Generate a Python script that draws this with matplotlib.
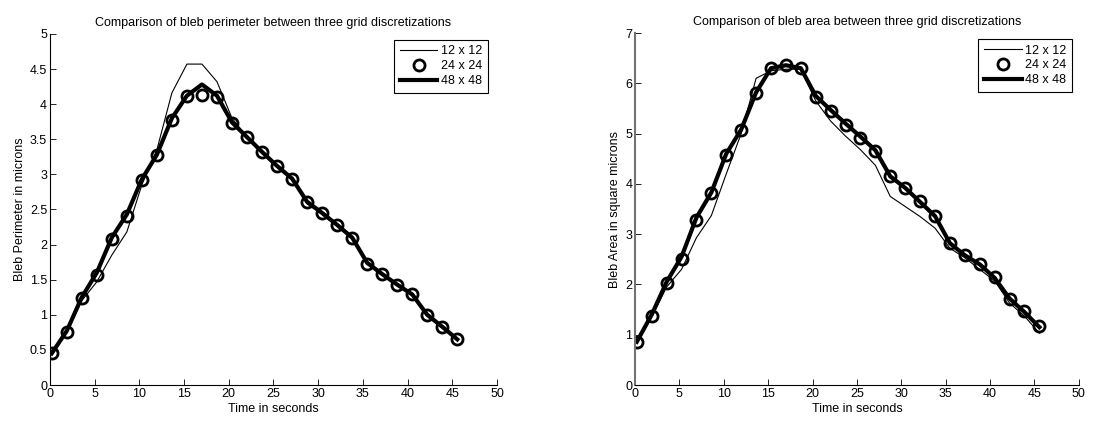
import numpy as np
import matplotlib
matplotlib.use("Agg")
import matplotlib.pyplot as plt

plt.rcParams['font.family'] = ['Liberation Sans', 'DejaVu Sans']
plt.rcParams['font.size'] = 9

# tempo de cada amostra (s)
tempo = [0.2, 1.88, 3.56, 5.24, 6.92, 8.6, 10.28, 11.96, 13.64, 15.32,
         17.0, 18.68, 20.36, 22.04, 23.72, 25.4, 27.08, 28.76, 30.44, 32.12,
         33.8, 35.48, 37.16, 38.84, 40.52, 42.2, 43.88, 45.56]

# perimetro (microns)
perim_12 = [0.45, 0.75, 1.2, 1.47, 1.85, 2.18, 2.85, 3.35, 4.16, 4.57,
            4.57, 4.32, 3.8, 3.53, 3.3, 3.1, 2.92, 2.58, 2.43, 2.26,
            2.08, 1.72, 1.56, 1.41, 1.27, 0.98, 0.81, 0.64]
perim_24 = [0.45, 0.76, 1.235, 1.57, 2.075, 2.41, 2.92, 3.27, 3.78, 4.11,
            4.13, 4.1, 3.73, 3.53, 3.32, 3.12, 2.94, 2.61, 2.45, 2.28,
            2.1, 1.73, 1.58, 1.43, 1.29, 0.99, 0.83, 0.65]
perim_48 = [0.45, 0.77, 1.25, 1.6, 2.1, 2.43, 2.93, 3.28, 3.8, 4.12,
            4.28, 4.12, 3.74, 3.53, 3.32, 3.12, 2.94, 2.61, 2.45, 2.28,
            2.1, 1.74, 1.58, 1.43, 1.29, 1.0, 0.83, 0.65]

# area (square microns)
area_12 = [0.85, 1.35, 1.95, 2.3, 2.93, 3.37, 4.2, 5.0, 6.1, 6.25,
           6.28, 6.28, 5.65, 5.25, 4.95, 4.68, 4.37, 3.75, 3.55, 3.35,
           3.12, 2.72, 2.53, 2.3, 2.07, 1.63, 1.37, 1.03]
area_24 = [0.85, 1.38, 2.02, 2.5, 3.29, 3.81, 4.57, 5.07, 5.81, 6.3,
           6.37, 6.3, 5.73, 5.45, 5.18, 4.92, 4.65, 4.15, 3.92, 3.65,
           3.37, 2.82, 2.59, 2.41, 2.14, 1.72, 1.47, 1.17]
area_48 = [0.86, 1.4, 2.05, 2.55, 3.33, 3.83, 4.6, 5.08, 5.82, 6.3,
           6.36, 6.3, 5.75, 5.47, 5.2, 4.94, 4.67, 4.15, 3.92, 3.64,
           3.36, 2.82, 2.58, 2.4, 2.13, 1.72, 1.45, 1.15]

paineis = [
    ([0.0457, 0.0855, 0.409, 0.834], perim_12, perim_24, perim_48, 5, np.arange(0, 5.01, 0.5),
     "Comparison of bleb perimeter between three grid discretizations",
     "Bleb Perimeter in microns", 0.98, 'black', 0.8),
    ([0.581, 0.0855, 0.406, 0.836], area_12, area_24, area_48, 7, np.arange(0, 8, 1),
     "Comparison of bleb area between three grid discretizations",
     "Bleb Area in square microns", 0.985, '0.45', 1.5),
]

fig = plt.figure(figsize=(10.93, 4.21), dpi=100)

for pos, s12, s24, s48, ymax, yticks, titulo, ylab, leg_x, cor_eixo, lw_eixo in paineis:
    ax = fig.add_axes(pos)
    ax.plot(tempo, s12, color='black', lw=0.8, label='12 x 12')
    ax.plot(tempo, s24, linestyle='none', marker='o', markersize=8,
            markerfacecolor='none', markeredgecolor='black', markeredgewidth=2,
            label='24 x 24')
    ax.plot(tempo, s48, color='black', lw=3, label='48 x 48')
    ax.set_xlim(0, 50)
    ax.set_ylim(0, ymax)
    ax.set_xticks(np.arange(0, 51, 5))
    ax.set_yticks(yticks)
    ax.set_yticklabels([f"{v:g}" for v in yticks])
    ax.tick_params(direction='in', length=4, width=0.6, labelsize=9, pad=2)
    ax.spines['top'].set_visible(False)
    ax.spines['right'].set_visible(False)
    ax.spines['left'].set_color(cor_eixo)
    ax.spines['left'].set_linewidth(lw_eixo)
    ax.set_title(titulo, fontsize=9, pad=6)
    ax.set_xlabel("Time in seconds", fontsize=9, labelpad=2)
    ax.set_ylabel(ylab, fontsize=9, labelpad=3)
    leg = ax.legend(loc='upper right', bbox_to_anchor=(leg_x, 0.983), fontsize=9,
                    fancybox=False, framealpha=1, edgecolor='black',
                    handlelength=3.0, handletextpad=0.3, borderpad=0.45,
                    labelspacing=0.22, borderaxespad=0)
    leg.get_frame().set_linewidth(0.8)

fig.savefig("out.png", dpi=100)
